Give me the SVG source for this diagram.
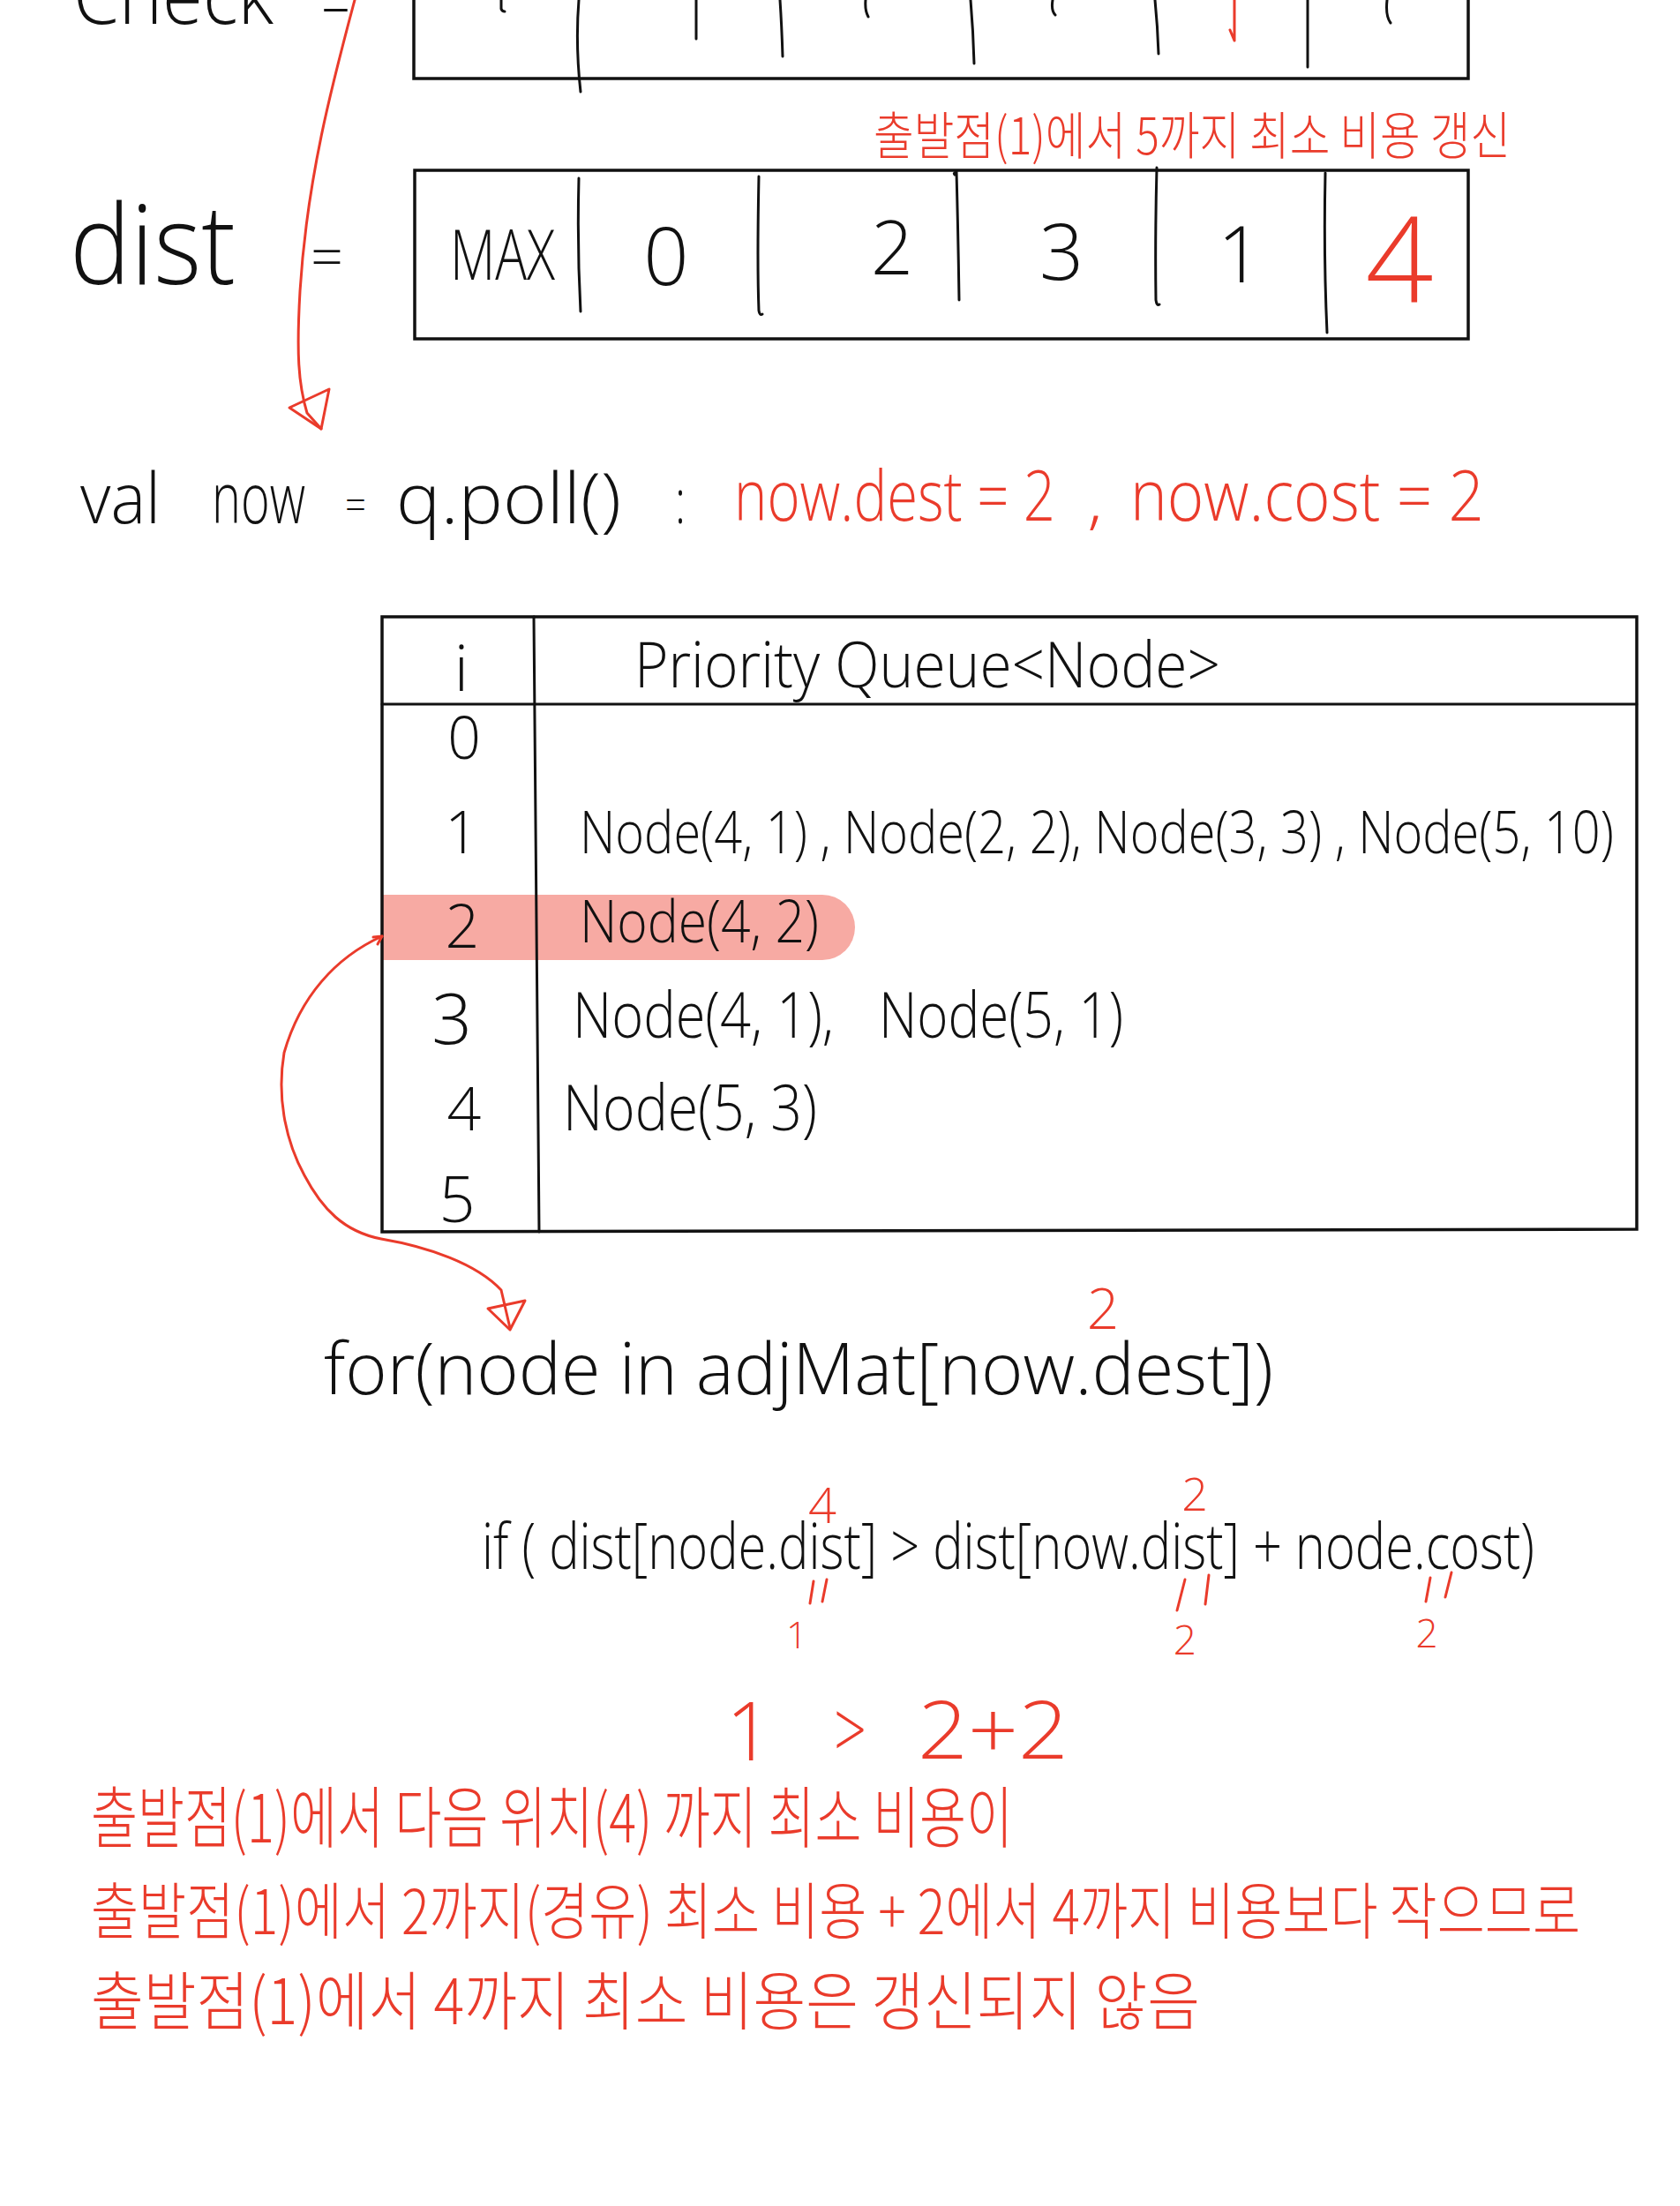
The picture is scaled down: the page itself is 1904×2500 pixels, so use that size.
<svg xmlns="http://www.w3.org/2000/svg" width="1904" height="2500" viewBox="0 0 1904 2500">
<style>
  .t { font-family: "Open Sans", "Liberation Sans", sans-serif; font-weight: 300; fill: #111; }
  .r { font-family: "Open Sans", "Liberation Sans", sans-serif; font-weight: 300; fill: #EA3B2B; }
  .k { font-family: "Noto Sans CJK KR", "Noto Sans", sans-serif; font-weight: 300; fill: #EA3B2B; }
  .box { fill: none; stroke: #111; stroke-width: 3.5; }
  .ln { fill: none; stroke: #111; stroke-width: 3; stroke-linecap: round; }
  .rl { fill: none; stroke: #EA3B2B; stroke-width: 3; stroke-linecap: round; stroke-linejoin: round; }
  .c { text-anchor: middle; }
</style>
<rect width="1904" height="2500" fill="#fff"/>

<g id="check">
  <text class="t" x="83" y="27" font-size="90" textLength="227" lengthAdjust="spacingAndGlyphs">Check</text>
  <text class="t" x="364" y="29" font-size="70" textLength="33" lengthAdjust="spacingAndGlyphs">=</text>
  <path class="box" d="M469 -10 V89 H1664 V-10"/>
  <path class="ln" d="M568 0 V10 Q569 13 572 13"/>
  <path class="ln" d="M656 0 Q652 50 658 104"/>
  <path class="ln" d="M789 0 V44"/>
  <path class="ln" d="M884 0 Q886 30 887 64"/>
  <path class="ln" d="M981 0 Q980 12 984 19"/>
  <path class="ln" d="M1100 0 Q1103 35 1104 72"/>
  <path class="ln" d="M1193 0 Q1191 12 1196 17"/>
  <path class="ln" d="M1309 0 Q1312 30 1313 61"/>
  <path class="rl" d="M1399 0 V46 M1394 34 L1399 46"/>
  <path class="ln" d="M1482 0 V76"/>
  <path class="ln" d="M1572 0 Q1570 18 1576 26"/>
</g>

<g id="dist">
  <text class="k" x="990" y="175" font-size="58" textLength="722" lengthAdjust="spacingAndGlyphs">출발점(1)에서 5까지 최소 비용 갱신</text>
  <text class="t" x="79" y="322" font-size="125" textLength="188" lengthAdjust="spacingAndGlyphs">dist</text>
  <text class="t" x="352" y="314" font-size="65" textLength="37" lengthAdjust="spacingAndGlyphs">=</text>
  <rect class="box" x="470" y="193" width="1194" height="191"/>
  <path class="ln" d="M656 202 Q654 280 658 353"/>
  <path class="ln" d="M860 200 Q858 300 860 352 Q861 358 864 356"/>
  <path class="ln" d="M1082 198 Q1080 196 1084 195 Q1086 270 1087 340"/>
  <path class="ln" d="M1311 190 Q1309 270 1310 340 Q1311 347 1314 345"/>
  <path class="ln" d="M1502 196 Q1500 290 1504 377"/>
  <text class="t" x="510" y="317" font-size="80" textLength="119" lengthAdjust="spacingAndGlyphs">MAX</text>
  <text class="t c" x="755" y="323" font-size="90">0</text>
  <text class="t c" x="1011" y="311" font-size="84">2</text>
  <text class="t c" x="1203" y="317" font-size="88">3</text>
  <text class="t c" x="1405" y="320" font-size="88">1</text>
  <text class="r c" x="1586" y="343" font-size="135">4</text>
</g>

<g id="poll">
  <text class="t" x="91" y="593" font-size="80" textLength="91" lengthAdjust="spacingAndGlyphs">val</text>
  <text class="t" x="240" y="593" font-size="80" textLength="106" lengthAdjust="spacingAndGlyphs">now</text>
  <text class="t" x="391" y="590" font-size="50" textLength="24" lengthAdjust="spacingAndGlyphs">=</text>
  <text class="t" x="449" y="593" font-size="80" textLength="255" lengthAdjust="spacingAndGlyphs">q.poll()</text>
  <text class="t" x="765" y="593" font-size="70" textLength="12" lengthAdjust="spacingAndGlyphs">:</text>
  <text class="r" x="832" y="590" font-size="80" textLength="364" lengthAdjust="spacingAndGlyphs">now.dest = 2</text>
  <text class="r" x="1232" y="592" font-size="66" textLength="18" lengthAdjust="spacingAndGlyphs">,</text>
  <text class="r" x="1281" y="590" font-size="80" textLength="401" lengthAdjust="spacingAndGlyphs">now.cost = 2</text>
</g>

<g id="table">
  <rect x="432" y="1014" width="537" height="74" rx="37" fill="#F7AAA3"/>
  <rect x="432" y="1014" width="60" height="74" fill="#F7AAA3"/>
  <path class="box" d="M433 699 H1855 V1393 L433 1396 Z" stroke-width="3"/>
  <path class="ln" d="M433 798 H1855" stroke-width="3.5"/>
  <path class="ln" d="M605 699 L611 1396"/>
  <text class="t c" x="523" y="783" font-size="72">i</text>
  <text class="t" x="719" y="779" font-size="72" textLength="664" lengthAdjust="spacingAndGlyphs">Priority Queue&lt;Node&gt;</text>
  <text class="t c" x="526" y="860" font-size="66">0</text>
  <text class="t c" x="523" y="967" font-size="66">1</text>
  <text class="t c" x="524" y="1074" font-size="68">2</text>
  <text class="t c" x="512" y="1183" font-size="80">3</text>
  <text class="t c" x="526" y="1281" font-size="68">4</text>
  <text class="t c" x="518" y="1385" font-size="72">5</text>
  <text class="t" x="657" y="967" font-size="66" textLength="1172" lengthAdjust="spacingAndGlyphs">Node(4, 1) , Node(2, 2), Node(3, 3) , Node(5, 10)</text>
  <text class="t" x="657" y="1068" font-size="66" textLength="271" lengthAdjust="spacingAndGlyphs">Node(4, 2)</text>
  <text class="t" x="649" y="1176" font-size="72" textLength="296" lengthAdjust="spacingAndGlyphs">Node(4, 1),</text>
  <text class="t" x="996" y="1176" font-size="72" textLength="277" lengthAdjust="spacingAndGlyphs">Node(5, 1)</text>
  <text class="t" x="638" y="1281" font-size="72" textLength="288" lengthAdjust="spacingAndGlyphs">Node(5, 3)</text>
</g>

<g id="loop">
  <text class="t" x="367" y="1580" font-size="82" textLength="1076" lengthAdjust="spacingAndGlyphs">for(node  in adjMat[now.dest])</text>
  <text class="r c" x="1250" y="1506" font-size="64">2</text>
</g>

<g id="condition">
  <text class="t" x="546" y="1778" font-size="72" textLength="1193" lengthAdjust="spacingAndGlyphs">if ( dist[node.dist] &gt; dist[now.dist] + node.cost)</text>
  <text class="r c" x="932" y="1726" font-size="56">4</text>
  <text class="r c" x="1354" y="1712" font-size="52">2</text>
  <path class="rl" d="M918 1817 L922 1792 M932 1815 L937 1790"/>
  <path class="rl" d="M1334 1825 L1343 1790 M1366 1818 L1370 1785"/>
  <path class="rl" d="M1616 1815 L1621 1788 M1638 1810 L1645 1782"/>
  <text class="r c" x="903" y="1868" font-size="42">1</text>
  <text class="r c" x="1343" y="1875" font-size="46">2</text>
  <text class="r c" x="1617" y="1867" font-size="44">2</text>
  <text class="r c" x="849" y="1995" font-size="92">1</text>
  <text class="r" x="945" y="1993" font-size="90" textLength="37" lengthAdjust="spacingAndGlyphs">&gt;</text>
  <text class="r" x="1040" y="1993" font-size="90" textLength="171" lengthAdjust="spacingAndGlyphs">2+2</text>
</g>

<g id="notes">
  <text class="k" x="103" y="2088" font-size="76" textLength="1045" lengthAdjust="spacingAndGlyphs">출발점(1)에서 다음 위치(4) 까지 최소 비용이</text>
  <text class="k" x="103" y="2192" font-size="70" textLength="1688" lengthAdjust="spacingAndGlyphs">출발점(1)에서  2까지(경유) 최소 비용 + 2에서 4까지 비용보다 작으므로</text>
  <text class="k" x="103" y="2294" font-size="72" textLength="1257" lengthAdjust="spacingAndGlyphs">출발점(1)에서  4까지 최소 비용은  갱신되지 않음</text>
</g>

<g id="connectors">
  <path class="rl" d="M402 0 C378 90 348 200 340 330 C336 400 338 435 348 468 L364 486"/>
  <path class="rl" d="M364 486 L328 462 L373 441 Z"/>
  <path class="rl" d="M433 1061 C380 1085 340 1130 322 1193 C314 1240 322 1290 345 1332 C365 1370 390 1396 432 1404 C485 1413 540 1432 568 1462 L578 1505"/>
  <path class="rl" d="M423 1062 L433 1061 L428 1070"/>
  <path class="rl" d="M578 1507 L553 1483 L595 1474 Z"/>
</g>
</svg>
